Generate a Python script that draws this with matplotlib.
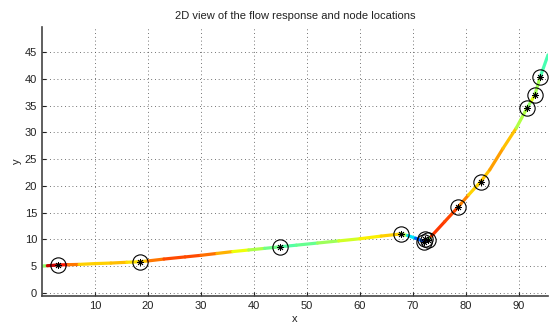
import numpy as np
import matplotlib
matplotlib.use("Agg")
import matplotlib.pyplot as plt
from matplotlib.collections import LineCollection

# flow path (x, y) and response value (0..1, jet colour scale)
path_x = [0, 1, 3, 5, 7, 10, 13, 16, 18.5, 20, 23, 27, 30, 33, 36, 39, 42, 45,
          48, 52, 56, 60, 64, 67.7, 69, 70.5, 72, 72.8, 73.5, 76, 78.5, 80.5,
          82.8, 84.5, 87, 89.5, 91.5, 92.3, 93, 94, 95.5]
path_y = [5.0, 5.05, 5.2, 5.25, 5.3, 5.45, 5.55, 5.7, 5.8, 5.95, 6.3, 6.7, 7.0,
          7.35, 7.7, 8.0, 8.3, 8.6, 8.9, 9.3, 9.7, 10.1, 10.6, 11.0, 10.7, 10.2,
          9.6, 9.9, 10.6, 13.3, 16.0, 18.3, 20.8, 23.0, 27.0, 30.8, 34.5, 35.8,
          37.0, 40.3, 44.5]
response = [0.1, 0.95, 0.92, 0.85, 0.72, 0.66, 0.72, 0.7, 0.64, 0.75, 0.82, 0.84,
            0.82, 0.76, 0.68, 0.6, 0.52, 0.45, 0.45, 0.5, 0.58, 0.63, 0.68, 0.7,
            0.4, 0.3, 0.15, 0.2, 0.85, 0.85, 0.82, 0.72, 0.65, 0.75, 0.73, 0.68,
            0.45, 0.6, 0.65, 0.45, 0.42]

# node locations
node_x = [3, 18.5, 45, 67.7, 72.0, 72.3, 72.9, 78.5, 82.8, 91.5, 93, 94]
node_y = [5.2, 5.8, 8.6, 11.0, 9.4, 10.1, 9.8, 16.0, 20.8, 34.5, 37.0, 40.3]

plt.rcParams['font.family'] = ['Liberation Sans', 'DejaVu Sans']
fig = plt.figure(figsize=(5.5, 3.27), dpi=100)
ax = fig.add_axes([0.0764, 0.095, 0.92, 0.822])

pts = np.column_stack([path_x, path_y])
segs = np.stack([pts[:-1], pts[1:]], axis=1)
seg_c = [(response[i] + response[i + 1]) / 2 for i in range(len(response) - 1)]
lc = LineCollection(segs, cmap='jet', linewidths=2.3, capstyle='round')
lc.set_array(np.array(seg_c))
lc.set_clim(0, 1)
ax.add_collection(lc)

ax.plot(node_x, node_y, 'o', mfc='none', mec='k', ms=11, mew=0.8)
ax.plot(node_x, node_y, ls='none', marker=(8, 2, 0), color='k', ms=5, mew=0.6)

ax.set_xlim(0, 95.5)
ax.set_ylim(-0.6, 49.7)
ax.set_xticks(range(10, 100, 10))
ax.set_yticks(range(0, 50, 5))
ax.grid(True, ls=(0, (1, 3.5)), color='#444444', lw=0.6)
ax.spines['top'].set_visible(False)
ax.spines['right'].set_visible(False)
for s in ['left', 'bottom']:
    ax.spines[s].set_color('#444444')
    ax.spines[s].set_linewidth(1.2)
ax.tick_params(direction='in', length=3, labelsize=8, colors='#222222')
ax.set_xlabel('x', fontsize=8, labelpad=2, color='#222222')
ax.set_ylabel('y', fontsize=8, labelpad=2, color='#222222')
ax.set_title('2D view of the flow response and node locations', fontsize=8,
             color='#222222')

fig.savefig('out.png', dpi=100)
